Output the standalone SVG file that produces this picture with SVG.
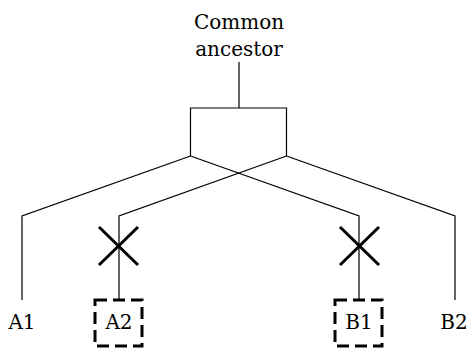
<svg xmlns="http://www.w3.org/2000/svg" width="468" height="348" viewBox="0 0 468 348">
  <style>
    .line { fill: none; stroke: #000; stroke-width: 1.2; }
    .cross { fill: none; stroke: #000; stroke-width: 3; }
    .dash { fill: none; stroke: #000; stroke-width: 3; stroke-dasharray: 12 6; }
    .lbl { font-family: "DejaVu Serif", "Liberation Serif", serif; font-size: 20px; fill: #000; text-anchor: middle; }
  </style>
  <rect width="468" height="348" fill="#fff"/>

  <g id="ancestor">
    <text class="lbl" x="239" y="29">Common</text>
    <text class="lbl" x="239" y="56">ancestor</text>
  </g>

  <g id="connectors">
    <!-- stem and duplication bracket -->
    <path class="line" d="M239,62 V108 M190.5,156 V108 H286.5 V156"/>
    <!-- left copy to A1 and B1 -->
    <path class="line" d="M190.5,156 L22,216 V300"/>
    <path class="line" d="M190.5,156 L359,216 V300"/>
    <!-- right copy to A2 and B2 -->
    <path class="line" d="M286.5,156 L119,216 V300"/>
    <path class="line" d="M286.5,156 L455,216 V300"/>
  </g>

  <g id="lossA2">
    <path class="cross" d="M99,227 L138,265 M138,227 L99,265"/>
  </g>
  <g id="lossB1">
    <path class="cross" d="M340,227 L379,265 M379,227 L340,265"/>
  </g>

  <g id="A1">
    <text class="lbl" x="22" y="329">A1</text>
  </g>
  <g id="A2">
    <rect class="dash" x="95" y="300" width="47" height="46"/>
    <text class="lbl" x="119" y="329">A2</text>
  </g>
  <g id="B1">
    <rect class="dash" x="335" y="300" width="47" height="46"/>
    <text class="lbl" x="359" y="329">B1</text>
  </g>
  <g id="B2">
    <text class="lbl" x="454" y="329">B2</text>
  </g>
</svg>
